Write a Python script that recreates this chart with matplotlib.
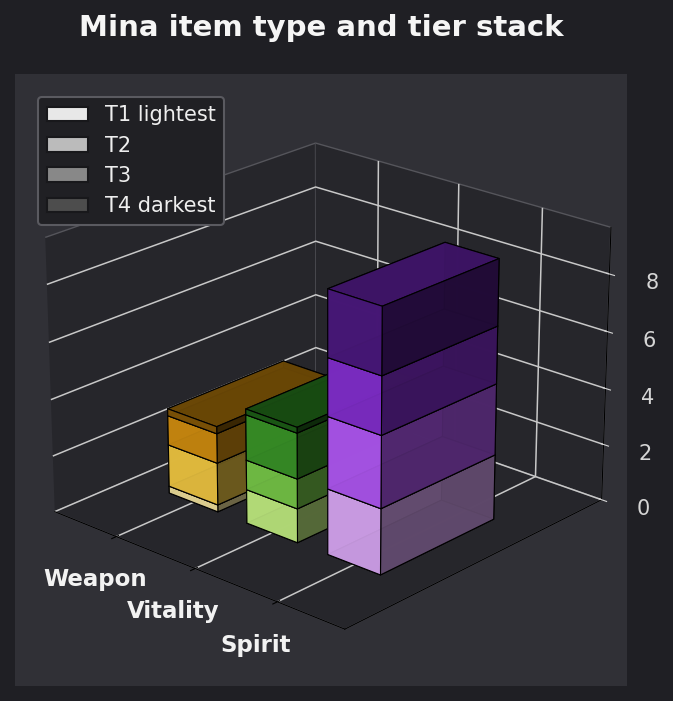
import matplotlib
matplotlib.use('Agg')
import matplotlib.pyplot as plt
import numpy as np
from matplotlib.patches import Patch

categories = ['Weapon', 'Vitality', 'Spirit']
tier_names = ['T1 lightest', 'T2', 'T3', 'T4 darkest']
t1 = [0.25, 1.2, 2.3]
t2 = [1.5, 1.05, 2.5]
t3 = [1.05, 1.6, 2.0]
t4 = [0.25, 0.2, 2.3]
colors = [
    ['#fdeca4', '#fbd045', '#da9411', '#8a5c08'],
    ['#c9f787', '#7dd04c', '#3c9b2a', '#1f6218'],
    ['#e2aeff', '#b95cff', '#8931d8', '#4f1a84'],
]
legend_colors = ['#e8e8e8', '#bbbbbb', '#888888', '#4d4d4d']

bg = '#1f1f24'
panel = '#303036'

fig = plt.figure(figsize=(6.73, 7.01), dpi=100, facecolor=bg)
ax = fig.add_axes([0.022, 0.022, 0.91, 0.873], projection='3d', facecolor=panel)
ax.view_init(elev=22.3, azim=-48)
ax.set_box_aspect((1, 1, 0.75), zoom=1.0)

bottom = np.zeros(3)
for tier, vals in enumerate([t1, t2, t3, t4]):
    for i in range(3):
        ax.bar3d(i - 0.315, 0.28, bottom[i], 0.63, 0.44, vals[i], color=colors[i][tier],
                 edgecolor='black', linewidth=0.8, shade=True, alpha=0.96)
    bottom = bottom + np.array(vals)

for a in (ax.xaxis, ax.yaxis, ax.zaxis):
    a.set_pane_color('#26262b')
    a.pane.set_edgecolor('#55555b')
    a._axinfo['grid']['color'] = '#c8c8c8'
    a._axinfo['grid']['linewidth'] = 1.1
ax.set_xticks([0, 1, 2])
ax.set_xticklabels(categories, fontsize=16.5, fontweight='bold', color='#f2f2f2', ha='center')
ax.set_yticks([])
ax.set_zticks([0, 2, 4, 6, 8])
ax.tick_params(axis='z', colors='#d5d5d5', labelsize=15, pad=9.5)
ax.tick_params(axis='x', pad=10)
ax.set_xlim(-0.81, 2.79)
ax.set_ylim(0, 1)
ax.set_zlim(0, 9.6)

handles = [Patch(facecolor=c, edgecolor='#18181b', linewidth=1.5, label=n)
           for c, n in zip(legend_colors, tier_names)]
ax.legend(handles=handles, loc='upper left', bbox_to_anchor=(0.038, 0.962), fontsize=15,
          facecolor='#202024', edgecolor='#5a5a60', labelcolor='#eeeeee', framealpha=1,
          borderaxespad=0).get_frame().set_linewidth(1.5)
fig.text(0.477, 0.96, 'Mina item type and tier stack', ha='center', va='center',
         fontsize=21, fontweight='bold', color='#f5f5f5')
fig.savefig('out.png', dpi=100, facecolor=bg)
